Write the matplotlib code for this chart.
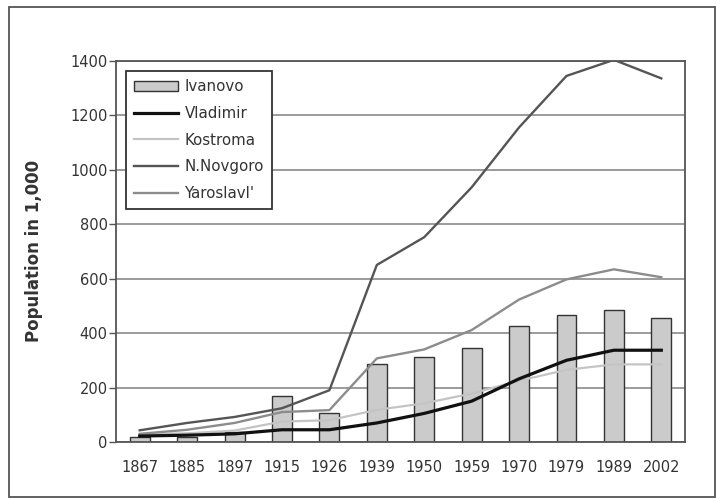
import matplotlib
matplotlib.use("Agg")
import matplotlib.pyplot as plt
from matplotlib.patches import Rectangle
import numpy as np

years = ['1867', '1885', '1897', '1915', '1926', '1939', '1950', '1959', '1970', '1979', '1989', '2002']
ivanovo = [17, 18, 37, 169, 107, 287, 312, 346, 425, 468, 484, 454]
vladimir = [22, 25, 30, 45, 45, 70, 105, 150, 232, 300, 337, 337]
kostroma = [28, 32, 42, 75, 80, 118, 142, 178, 225, 265, 285, 285]
nnovgorod = [43, 70, 92, 124, 190, 650, 752, 935, 1155, 1344, 1403, 1335]
yaroslavl = [30, 45, 70, 110, 117, 307, 340, 411, 523, 597, 634, 605]
yticks = [0, 200, 400, 600, 800, 1000, 1200, 1400]

plt.rcParams['font.family'] = ['DejaVu Sans']

fig = plt.figure(figsize=(7.17, 4.99), dpi=100)
ax = fig.add_axes([0.1618, 0.1142, 0.7936, 0.7642])

x = np.arange(len(years))
h_iv = ax.bar(x, ivanovo, width=0.42, color='#cbcbcb', edgecolor='#333333', linewidth=1.0,
              label='Ivanovo', zorder=2)
h_vl, = ax.plot(x, vladimir, color='#111111', lw=2.3, label='Vladimir', zorder=5)
h_ko, = ax.plot(x, kostroma, color='#c4c4c4', lw=1.6, label='Kostroma', zorder=3)
h_nn, = ax.plot(x, nnovgorod, color='#555555', lw=1.7, label='N.Novgoro', zorder=4)
h_ya, = ax.plot(x, yaroslavl, color='#8c8c8c', lw=1.7, label="Yaroslavl'", zorder=4)

ax.set_xlim(-0.5, len(years) - 0.5)
ax.set_ylim(0, 1400)
ax.set_yticks(yticks)
ax.set_yticklabels([str(v) for v in yticks])
ax.set_xticks(x)
ax.set_xticklabels(years)

ax.yaxis.grid(True, color='#8a8a8a', lw=1.2)
ax.set_axisbelow(True)
for s in ax.spines.values():
    s.set_color('#555555')
    s.set_linewidth(1.3)

ax.tick_params(axis='y', length=5, width=1.0, color='#555555', labelsize=10.5,
               labelcolor='#333333', pad=1)
ax.tick_params(axis='x', length=0, labelsize=10.5, labelcolor='#333333', pad=13)

ax.set_ylabel('Population in 1,000', fontsize=12, fontweight='bold', color='#333333',
              labelpad=20)

leg = ax.legend(handles=[h_iv, h_vl, h_ko, h_nn, h_ya], loc='upper left',
                bbox_to_anchor=(0.0176, 0.973), borderaxespad=0, frameon=True,
                fancybox=False, shadow=False, fontsize=10.8, handlelength=2.9,
                handleheight=0.7, labelspacing=0.78, borderpad=0.55, handletextpad=0.45,
                labelcolor='#333333')
leg.get_frame().set_edgecolor('#333333')
leg.get_frame().set_linewidth(1.3)
leg.get_frame().set_facecolor('white')
leg.get_frame().set_alpha(1)
leg.set_zorder(10)

fig.patches.append(Rectangle((9 / 717, 2 / 499), 706 / 717, 490 / 499,
                             transform=fig.transFigure, fill=False,
                             edgecolor='#555555', lw=1.3))

fig.savefig('out.png', dpi=100)
